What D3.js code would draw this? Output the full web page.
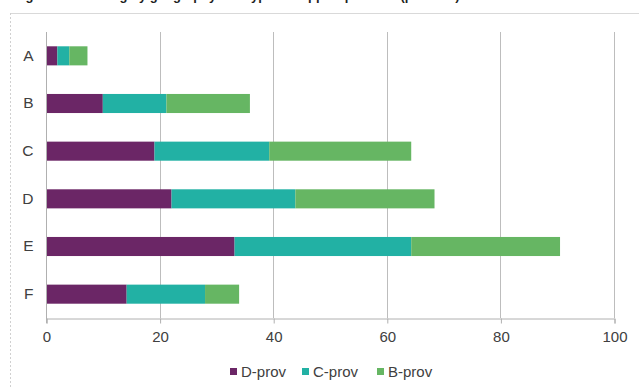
<!DOCTYPE html>
<html>
<head>
<meta charset="utf-8">
<script src="https://cdn.jsdelivr.net/npm/d3@7"></script>
<style>
  html, body { margin: 0; padding: 0; background: #fff; }
  svg { display: block; font-family: "Liberation Sans", Arial, sans-serif; }
</style>
</head>
<body>
<svg id="chart" width="639" height="388"></svg>
<script>
// Categories (top to bottom) and stacked series values
const categories = ["A", "B", "C", "D", "E", "F"];
const seriesNames = ["D-prov", "C-prov", "B-prov"];
const dProv = [2.0, 10.0, 19.1, 22.1, 33.2, 14.2];
const cProv = [2.1, 11.2, 20.2, 21.8, 31.1, 13.8];
const bProv = [3.2, 14.7, 25.0, 24.5, 26.2, 6.0];
const xTicks = [0, 20, 40, 60, 80, 100];
const colors = ["#6b2666", "#22b1a4", "#66b663"];
const title = "Figure 5: Learning by geography and type of support provider (per cent)";

const rows = categories.map((c, i) => ({
  cat: c, "D-prov": dProv[i], "C-prov": cProv[i], "B-prov": bProv[i]
}));

const svg = d3.select("#chart");

// Title sits mostly above the visible frame
svg.append("text")
  .attr("x", 14).attr("y", 0)
  .attr("font-size", 13).attr("font-weight", "bold")
  .attr("fill", "#1f1f1f")
  .text(title);

// Outer frame: solid top edge, dotted left edge
svg.append("line")
  .attr("x1", 10).attr("x2", 639)
  .attr("y1", 13.5).attr("y2", 13.5)
  .attr("stroke", "#d9d9d9");
svg.append("line")
  .attr("x1", 10.5).attr("x2", 10.5)
  .attr("y1", 13).attr("y2", 388)
  .attr("stroke", "#d0d0d0")
  .attr("stroke-dasharray", "2,2");

const x = d3.scaleLinear().domain([0, 100]).range([46, 614]);
const y = d3.scaleBand().domain(categories).range([32, 318])
  .paddingInner(0.6).paddingOuter(0.3);

// Vertical gridlines
svg.append("g").selectAll("line")
  .data(xTicks.slice(1))
  .join("line")
  .attr("x1", d => Math.round(x(d)) + 0.5)
  .attr("x2", d => Math.round(x(d)) + 0.5)
  .attr("y1", 32).attr("y2", 318)
  .attr("stroke", "#bdbdbd");

// Stacked bars
const stack = d3.stack().keys(seriesNames)(rows);
svg.append("g").selectAll("g")
  .data(stack)
  .join("g")
  .attr("fill", (d, i) => colors[i])
  .selectAll("rect")
  .data(d => d)
  .join("rect")
  .attr("x", d => x(d[0]))
  .attr("y", d => y(d.data.cat))
  .attr("width", d => x(d[1]) - x(d[0]))
  .attr("height", y.bandwidth());

// Bottom axis
const xAxis = d3.axisBottom(x).tickValues(xTicks).tickSize(5).tickPadding(6);
const gx = svg.append("g")
  .attr("transform", "translate(0.5,318.5)")
  .call(xAxis);
gx.select(".domain").attr("stroke", "#b0b0b0");
gx.selectAll(".tick line").attr("stroke", "#b0b0b0");
gx.selectAll(".tick text")
  .attr("font-size", 15)
  .attr("font-family", "Liberation Sans, Arial, sans-serif")
  .attr("fill", "#404040")
  .attr("dy", "0.85em");

// Left axis (category labels)
const yAxis = d3.axisLeft(y).tickSize(0).tickPadding(13);
const gy = svg.append("g")
  .attr("transform", "translate(46.5,0)")
  .call(yAxis);
gy.select(".domain").attr("stroke", "#b0b0b0").attr("d", "M0,32V323");
gy.selectAll(".tick text")
  .attr("font-size", 15.5)
  .attr("font-family", "Liberation Sans, Arial, sans-serif")
  .attr("fill", "#404040");

// Legend
const legendX = [230, 302, 377];
const legend = svg.append("g").selectAll("g")
  .data(seriesNames)
  .join("g")
  .attr("transform", (d, i) => `translate(${legendX[i]},372)`);
legend.append("rect")
  .attr("x", 0).attr("y", -4)
  .attr("width", 7).attr("height", 7)
  .attr("fill", (d, i) => colors[i]);
legend.append("text")
  .attr("x", 11).attr("y", 0)
  .attr("dy", "0.35em")
  .attr("font-size", 15)
  .attr("fill", "#404040")
  .text(d => d);
</script>
</body>
</html>
